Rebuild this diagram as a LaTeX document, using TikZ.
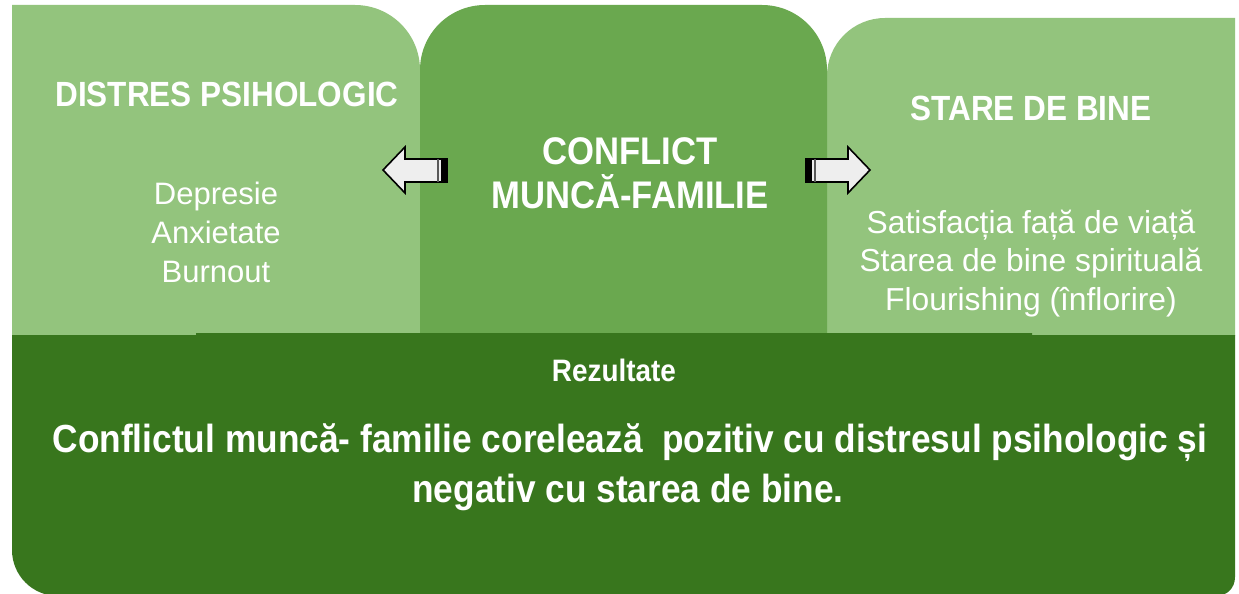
\documentclass[tikz,border=0pt]{standalone}
\usepackage{fontspec}
\setmainfont{Liberation Sans}
\newfontfamily\narrowsans{Liberation Sans}[FakeStretch=0.9]
\definecolor{lightg}{HTML}{93C47D}
\definecolor{midg}{HTML}{6AA84F}
\definecolor{darkg}{HTML}{38761D}
\definecolor{arrowgray}{HTML}{EEEEEE}
\tikzset{
  lightbox/.style={fill=lightg},
  midbox/.style={fill=midg},
  darkbox/.style={fill=darkg},
  titletext/.style={text=white, inner sep=0pt, anchor=base,
    font={\narrowsans\bfseries\fontsize{35}{42}\selectfont}},
  centertitle/.style={text=white, inner sep=0pt, anchor=base,
    font={\narrowsans\bfseries\fontsize{38.5}{46}\selectfont}},
  listtext/.style={text=white, inner sep=0pt, anchor=base,
    font={\fontsize{31}{38}\selectfont}},
  listtextR/.style={text=white, inner sep=0pt, anchor=base,
    font={\fontsize{31.8}{38}\selectfont}},
  smalltitle/.style={text=white, inner sep=0pt, anchor=base,
    font={\narrowsans\bfseries\fontsize{31}{36}\selectfont}},
  maintext/.style={text=white, inner sep=0pt, anchor=base,
    font={\narrowsans\bfseries\fontsize{39.2}{46}\selectfont}},
  arrowbody/.style={fill=arrowgray, draw=black, line width=1.6pt, line join=miter},
  stripe/.style={fill=black},
  thinstripe/.style={draw=black!65, line width=1.8pt},
}
\begin{document}
\begin{tikzpicture}[x=1pt,y=-1pt]
\useasboundingbox (0,0) rectangle (1239,594);
\fill[white] (0,0) rectangle (1239,594);

% left box
\path[lightbox] (12,5) -- (355,5) .. controls (390.9,5) and (420,34.1) .. (420,70)
  -- (420,336) -- (12,336) -- cycle;
% right box
\path[lightbox] (827,336) -- (827,76) .. controls (827,44) and (853,18) .. (885,18)
  -- (1235,18) -- (1235,336) -- cycle;
% centre box
\path[midbox] (420,334) -- (420,70) .. controls (420,34.1) and (449.1,5) .. (485,5)
  -- (762,5) .. controls (797.9,5) and (827,34.1) .. (827,70) -- (827,334) -- cycle;
% bottom box
\path[darkbox] (12,335) -- (196,335) -- (196,333) -- (1032,333) -- (1032,335) -- (1235,335)
  -- (1235,577) .. controls (1235,588) and (1227,596) .. (1216,596)
  -- (58,596) .. controls (32.6,596) and (12,575.4) .. (12,550) -- cycle;

% left arrow
\path[arrowbody] (383,170) -- (405,147) -- (405,159) -- (447,159) -- (447,182)
  -- (405,182) -- (405,193) -- cycle;
\fill[stripe] (441,159) rectangle (447,182);
\draw[thinstripe] (438,159) -- (438,182);
% right arrow
\path[arrowbody] (870,170) -- (848,147) -- (848,159) -- (806,159) -- (806,182)
  -- (848,182) -- (848,193) -- cycle;
\fill[stripe] (806,159) rectangle (812,182);
\draw[thinstripe] (815,159) -- (815,182);

% texts
\node[titletext] (dp) at (227,106) {DISTRES PSIHOLOGIC};
\node[listtext] (dp1) at (216,204) {Depresie};
\node[listtext] (dp2) at (216,243) {Anxietate};
\node[listtext] (dp3) at (216,282) {Burnout};

\node[centertitle] (cf1) at (630,164) {CONFLICT};
\node[centertitle] (cf2) at (630,208) {MUNCĂ-FAMILIE};

\node[titletext] (sb) at (1031,120) {STARE DE BINE};
\node[listtextR] (sb1) at (1031,233) {Satisfacția față de viață};
\node[listtextR] (sb2) at (1031,271.5) {Starea de bine spirituală};
\node[listtextR] (sb3) at (1031,310) {Flourishing (înflorire)};

\node[smalltitle] (rz) at (614,381) {Rezultate};
\node[maintext] (m1) at (630,452) {Conflictul muncă- familie corelează~ pozitiv cu distresul psihologic și};
\node[maintext] (m2) at (628,502) {negativ cu starea de bine.};
\end{tikzpicture}
\end{document}
